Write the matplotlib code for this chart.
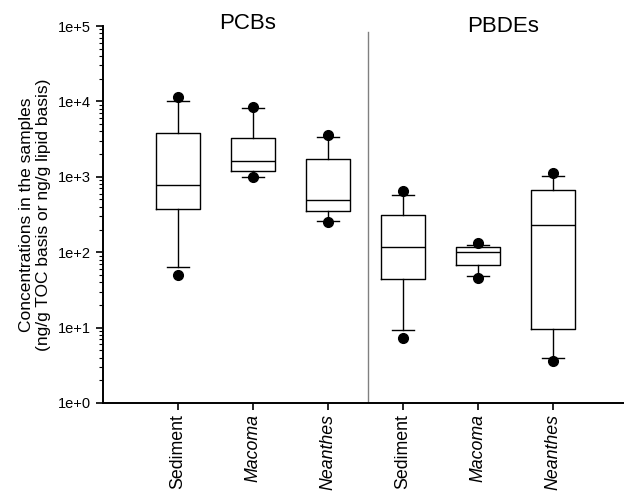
import matplotlib
matplotlib.use("Agg")
import matplotlib.pyplot as plt
from matplotlib.ticker import LogLocator, NullFormatter, FixedLocator

plt.rcParams['font.family'] = ['Liberation Sans', 'DejaVu Sans']

# box statistics (ng/g)
labels = ["Sediment", "Macoma", "Neanthes", "Sediment", "Macoma", "Neanthes"]
q1 = [374, 1183, 357, 44, 68, 9.5]
med = [771, 1637, 489, 119, 100, 228]
q3 = [3770, 3266, 1706, 309, 116, 662]
whislo = [63, 1000, 257, 9.3, 48, 3.9]
whishi = [10000, 8070, 3400, 580, 125, 1024]
lo_points = [50, 990, 250, 7.3, 45, 3.6]
hi_points = [11600, 8500, 3580, 649, 131, 1113]
groups = ["PCBs", "PBDEs"]

stats = []
for i in range(len(labels)):
    stats.append(dict(q1=q1[i], med=med[i], q3=q3[i], whislo=whislo[i],
                      whishi=whishi[i], fliers=[lo_points[i], hi_points[i]],
                      label=labels[i]))

fig = plt.figure(figsize=(6.24, 4.92), dpi=100)
ax = fig.add_axes([103 / 624, 89 / 492, 521 / 624, 377 / 492])

pos = list(range(1, len(labels) + 1))
ax.bxp(stats, positions=pos, widths=0.58, capwidths=0.29,
       boxprops=dict(color='black', linewidth=1.0),
       whiskerprops=dict(color='black', linewidth=1.0),
       capprops=dict(color='black', linewidth=1.0),
       medianprops=dict(color='black', linewidth=1.0),
       flierprops=dict(marker='o', markerfacecolor='black', markeredgecolor='black',
                       markersize=7, linestyle='none'))

ax.set_yscale('log')
ax.set_ylim(1, 1e5)
ax.set_xlim(0, 6.95)

ax.yaxis.set_major_locator(FixedLocator([1, 10, 100, 1e3, 1e4, 1e5]))
ax.set_yticklabels(["1e+0", "1e+1", "1e+2", "1e+3", "1e+4", "1e+5"])
ax.yaxis.set_minor_locator(LogLocator(base=10, subs=range(2, 10), numticks=20))
ax.yaxis.set_minor_formatter(NullFormatter())

ax.set_xticks(pos)
ax.set_xticklabels(labels, rotation=90, fontsize=12.8)
for t, lab in zip(ax.get_xticklabels(), labels):
    if lab != "Sediment":
        t.set_style('italic')

ax.tick_params(axis='y', which='major', length=5, width=1.2, labelsize=10.5)
ax.tick_params(axis='y', which='minor', length=3, width=0.8)
ax.tick_params(axis='x', length=5, width=1.2, pad=3)

ax.spines['top'].set_visible(False)
ax.spines['right'].set_visible(False)
ax.spines['left'].set_linewidth(1.4)
ax.spines['bottom'].set_linewidth(1.4)

ax.axvline(3.53, ymin=0, ymax=0.984, color='gray', linewidth=1.0)

ax.set_ylabel("Concentrations in the samples\n(ng/g TOC basis or ng/g lipid basis)",
              fontsize=12.5, labelpad=5)

ax.text(1.93, 0.992, groups[0], transform=ax.get_xaxis_transform(),
        ha='center', va='baseline', fontsize=16)
ax.text(5.34, 0.985, groups[1], transform=ax.get_xaxis_transform(),
        ha='center', va='baseline', fontsize=16)

fig.savefig("out.png", dpi=100)
